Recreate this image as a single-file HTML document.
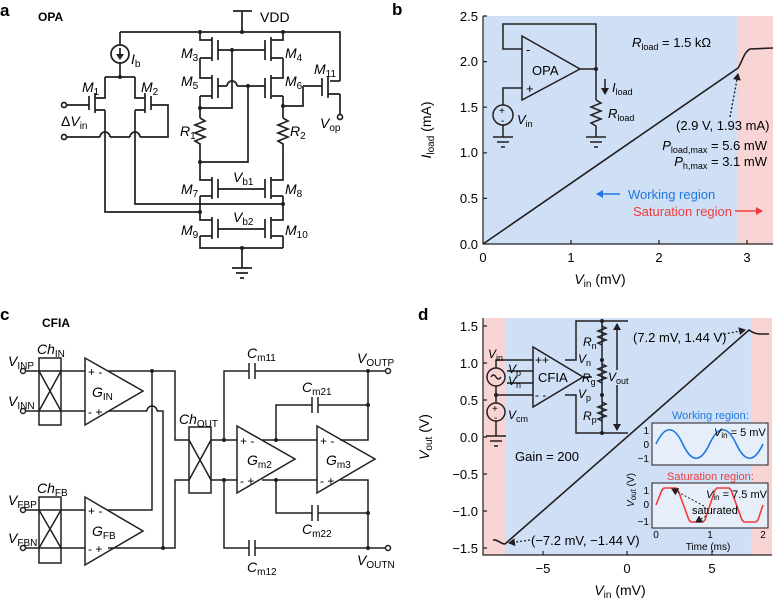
<!DOCTYPE html>
<html><head><meta charset="utf-8"><style>
html,body{margin:0;padding:0;background:#fff}
svg{display:block;font-family:"Liberation Sans",Arial,sans-serif}
</style></head><body>
<svg width="774" height="601" viewBox="0 0 774 601" xmlns="http://www.w3.org/2000/svg">
<defs>
<marker id="ah" markerWidth="8" markerHeight="8" refX="6" refY="4" orient="auto" markerUnits="userSpaceOnUse"><path d="M0,0 L7,4 L0,8 z" fill="#231f20"/></marker>
<marker id="ahb" markerWidth="8" markerHeight="8" refX="6" refY="4" orient="auto" markerUnits="userSpaceOnUse"><path d="M0,0 L7,4 L0,8 z" fill="#1f78e0"/></marker>
<marker id="ahr" markerWidth="8" markerHeight="8" refX="6" refY="4" orient="auto" markerUnits="userSpaceOnUse"><path d="M0,0 L7,4 L0,8 z" fill="#f03c3c"/></marker>
</defs>

<!-- ============ PANEL A ============ -->
<text x="0" y="16" font-size="17" font-weight="bold">a</text>
<text x="38" y="21" font-size="12" font-weight="bold">OPA</text>
<g stroke="#231f20" stroke-width="1.7" fill="none">
<path d="M242,11 V32 M233,11 H252"/>
<path d="M120,32 H340 V81"/>
<path d="M340,81 H330"/>
<path d="M328,76 V98 M322,78 V96 M340,94 H328 M340,94 V114"/>
<circle cx="340" cy="117" r="2.5" fill="#fff"/>
<path d="M303,86 H322 M303,86 V106 H283"/>
<path d="M120,32 V45 M120,63 V77"/>
<circle cx="120" cy="54" r="9"/>
<path d="M120,48 V55"/>
<path d="M105,77 H135"/>
<path d="M105,77 V98 H95 M95,93 V113 M89,96 V110 M67,105 H89 M105,110 H95 M105,110 V212 H200"/>
<path d="M135,77 V98 H145 M145,93 V113 M151,96 V110 M151,105 H168 V137 H140 M135,110 H145 M135,110 V204 H283"/>
<path d="M67,137 H100 M110,137 H130"/>
<path d="M100,137 A5,5 0 0 1 110,137 M130,137 A5,5 0 0 1 140,137"/>
<circle cx="64" cy="105" r="2.5" fill="#fff"/>
<circle cx="64" cy="137" r="2.5" fill="#fff"/>
<path d="M200,32 V40 H212 M212,37 V61 M200,58 H212 M200,58 V78 H212 M212,75 V99 M200,96 H212 M200,96 V118"/>
<path d="M200,118 l5,3 l-10,4 l10,4 l-10,4 l10,4 l-10,4 l5,3 V180 H212 M212,177 V199 M200,196 H212 M200,196 V220 H212 M212,217 V239 M200,236 H212 M200,236 V248 H283"/>
<path d="M218,40 V60 M218,78 V98 M218,179 V198 M218,219 V238"/>
<path d="M283,32 V40 H271 M271,37 V61 M283,58 H271 M283,58 V78 H271 M271,75 V99 M283,96 H271 M283,96 V118"/>
<path d="M283,118 l5,3 l-10,4 l10,4 l-10,4 l10,4 l-10,4 l5,3 V180 H271 M271,177 V199 M283,196 H271 M283,196 V220 H271 M271,217 V239 M283,236 H271 M283,236 V248"/>
<path d="M265,40 V60 M265,78 V98 M265,179 V198 M265,219 V238"/>
<path d="M218,50 H265 M232,50 V108 H200 M218,86 H227 M237,86 H265 M227,86 A5,5 0 0 1 237,86 M248,86 V162 H200"/>
<path d="M218,189 H265 M218,229 H265"/>
<path d="M242,248 V268 M232,268 H252 M236,273 H248 M240,278 H244"/>
</g>
<path d="M116,54 L124,54 L120,60 Z" fill="#231f20"/>
<g fill="#231f20">
<circle cx="242" cy="32" r="2"/><circle cx="200" cy="32" r="2"/><circle cx="283" cy="32" r="2"/>
<circle cx="120" cy="77" r="2"/><circle cx="232" cy="50" r="2"/><circle cx="248" cy="86" r="2"/>
<circle cx="200" cy="108" r="2"/><circle cx="283" cy="106" r="2"/><circle cx="200" cy="162" r="2"/>
<circle cx="200" cy="212" r="2"/><circle cx="283" cy="204" r="2"/><circle cx="242" cy="248" r="2"/>
</g>
<g font-size="14">
<text x="260" y="22">VDD</text>
<text x="131" y="64" font-style="italic">I<tspan font-size="10" font-style="normal" dy="3">b</tspan></text>
<text x="82" y="92" font-style="italic">M<tspan font-size="10" font-style="normal" dy="3">1</tspan></text>
<text x="141" y="92" font-style="italic">M<tspan font-size="10" font-style="normal" dy="3">2</tspan></text>
<text x="61" y="126">Δ<tspan font-style="italic">V</tspan><tspan font-size="10" dy="3">in</tspan></text>
<text x="181" y="58" font-style="italic">M<tspan font-size="10" font-style="normal" dy="3">3</tspan></text>
<text x="285" y="58" font-style="italic">M<tspan font-size="10" font-style="normal" dy="3">4</tspan></text>
<text x="181" y="86" font-style="italic">M<tspan font-size="10" font-style="normal" dy="3">5</tspan></text>
<text x="285" y="86" font-style="italic">M<tspan font-size="10" font-style="normal" dy="3">6</tspan></text>
<text x="314" y="74" font-style="italic">M<tspan font-size="10" font-style="normal" dy="3">11</tspan></text>
<text x="320" y="128" font-style="italic">V<tspan font-size="10" font-style="normal" dy="3">op</tspan></text>
<text x="180" y="136" font-style="italic">R<tspan font-size="10" font-style="normal" dy="3">1</tspan></text>
<text x="290" y="136" font-style="italic">R<tspan font-size="10" font-style="normal" dy="3">2</tspan></text>
<text x="233" y="182" font-style="italic">V<tspan font-size="10" font-style="normal" dy="3">b1</tspan></text>
<text x="233" y="222" font-style="italic">V<tspan font-size="10" font-style="normal" dy="3">b2</tspan></text>
<text x="181" y="194" font-style="italic">M<tspan font-size="10" font-style="normal" dy="3">7</tspan></text>
<text x="285" y="194" font-style="italic">M<tspan font-size="10" font-style="normal" dy="3">8</tspan></text>
<text x="181" y="235" font-style="italic">M<tspan font-size="10" font-style="normal" dy="3">9</tspan></text>
<text x="285" y="235" font-style="italic">M<tspan font-size="10" font-style="normal" dy="3">10</tspan></text>
</g>

<!-- ============ PANEL B ============ -->
<text x="392" y="15" font-size="17" font-weight="bold">b</text>
<rect x="483" y="16" width="255" height="228" fill="#cfdff5"/>
<rect x="738" y="16" width="35" height="228" fill="#f9d4d4"/>
<path d="M483,16 V244 H773" stroke="#231f20" stroke-width="1.2" fill="none"/>
<g stroke="#231f20" stroke-width="1.2">
<path d="M483,16 h4 M483,61.6 h4 M483,107.2 h4 M483,152.8 h4 M483,198.4 h4"/>
<path d="M571,244 v-4 M659,244 v-4 M747,244 v-4"/>
</g>
<g font-size="13" text-anchor="end">
<text x="478" y="21">2.5</text><text x="478" y="66">2.0</text><text x="478" y="112">1.5</text>
<text x="478" y="157">1.0</text><text x="478" y="203">0.5</text><text x="478" y="249">0.0</text>
</g>
<g font-size="13" text-anchor="middle">
<text x="483" y="262">0</text><text x="571" y="262">1</text><text x="659" y="262">2</text><text x="747" y="262">3</text>
</g>
<text x="600" y="284" font-size="14" text-anchor="middle"><tspan font-style="italic">V</tspan><tspan font-size="10" dy="3">in</tspan><tspan dy="-3"> (mV)</tspan></text>
<text transform="translate(431,130) rotate(-90)" font-size="14" text-anchor="middle"><tspan font-style="italic">I</tspan><tspan font-size="10" dy="3">load</tspan><tspan dy="-3"> (mA)</tspan></text>
<path d="M483,244 L738,68 C742,62 744,52 750,49 L773,48" stroke="#231f20" stroke-width="1.6" fill="none"/>
<g stroke="#231f20" stroke-width="1.5" fill="none">
<path d="M522,36 V100 L580,69 Z"/>
<path d="M580,69 H596 M522,49 H503 V24 H596 V69 V100"/>
<path d="M596,100 l5,3 l-10,4 l10,4 l-10,4 l10,4 l-10,4 l5,3 V137 M586,137 H606 M590,142 H602 M594,147 H598"/>
<path d="M522,88 H503 V105 M503,125 V137 M493,137 H513 M497,142 H509 M501,147 H505"/>
<circle cx="503" cy="115" r="10"/>
<path d="M605,79 V94" marker-end="url(#ah)"/>
</g>
<circle cx="596" cy="69" r="2" fill="#231f20"/>
<g font-size="13">
<text x="526" y="54">-</text><text x="526" y="93">+</text>
<text x="532" y="75">OPA</text>
<text x="499" y="114" font-size="10">+</text><text x="501" y="124" font-size="10">-</text>
<text x="517" y="124" font-style="italic">V<tspan font-size="9" font-style="normal" dy="3">in</tspan></text>
<text x="612" y="92" font-style="italic">I<tspan font-size="9" font-style="normal" dy="3">load</tspan></text>
<text x="608" y="118" font-style="italic">R<tspan font-size="9" font-style="normal" dy="3">load</tspan></text>
<text x="632" y="47"><tspan font-style="italic">R</tspan><tspan font-size="9" dy="3">load</tspan><tspan dy="-3"> = 1.5 kΩ</tspan></text>
<text x="676" y="130">(2.9 V, 1.93 mA)</text>
<text x="767" y="150" text-anchor="end"><tspan font-style="italic">P</tspan><tspan font-size="9" dy="3">load,max</tspan><tspan dy="-3"> = 5.6 mW</tspan></text>
<text x="767" y="166" text-anchor="end"><tspan font-style="italic">P</tspan><tspan font-size="9" dy="3">h,max</tspan><tspan dy="-3"> = 3.1 mW</tspan></text>
<text x="628" y="199" fill="#1f78e0">Working region</text>
<text x="633" y="216" fill="#f03c3c">Saturation region</text>
</g>
<path d="M730,117 L738,74" stroke="#231f20" stroke-width="1.4" stroke-dasharray="2,2" fill="none" marker-end="url(#ah)"/>
<path d="M620,194 H597" stroke="#1f78e0" stroke-width="1.5" marker-end="url(#ahb)"/>
<path d="M735,211 H762" stroke="#f03c3c" stroke-width="1.5" marker-end="url(#ahr)"/>

<!-- ============ PANEL C ============ -->
<text x="0" y="320" font-size="17" font-weight="bold">c</text>
<text x="42" y="327" font-size="12" font-weight="bold">CFIA</text>
<g stroke="#231f20" stroke-width="1.5" fill="none">
<rect x="39" y="358" width="22" height="67"/><path d="M39,371 L61,411 M39,411 L61,371"/>
<rect x="39" y="497" width="22" height="66"/><path d="M39,510 L61,548 M39,548 L61,510"/>
<rect x="189" y="427" width="22" height="66"/><path d="M189,440 L211,480 M189,480 L211,440"/>
<path d="M25,371 H85 M25,411 H85 M25,510 H85 M25,548 H85"/>
<path d="M85,358 V425 L143,391 Z M85,497 V565 L143,531 Z"/>
<path d="M237,426 V493 L295,459 Z M317,426 V493 L375,459 Z"/>
<path d="M108,371 H175 V440 H189 M152,371 V510 H108"/>
<path d="M108,411 H147 M157,411 H163 V548 M147,411 A5,5 0 0 1 157,411 M108,548 H175 V480 H189"/>
<path d="M211,440 H237 M211,480 H237 M224,440 V371 H249 M255,371 H368 M224,480 V548 H249 M255,548 H368"/>
<path d="M249,363 V379 M255,363 V379 M249,540 V556 M255,540 V556"/>
<path d="M262,440 H317 M262,480 H317 M276,440 V405 H312 M318,405 H368 M276,480 V513 H312 M318,513 H368"/>
<path d="M312,397 V413 M318,397 V413 M312,505 V521 M318,505 V521"/>
<path d="M340,440 H368 V371 H385 M340,480 H368 V548 H385"/>
</g>
<g fill="#fff" stroke="#231f20" stroke-width="1.5">
<circle cx="23" cy="371" r="2.5"/><circle cx="23" cy="411" r="2.5"/><circle cx="23" cy="510" r="2.5"/><circle cx="23" cy="548" r="2.5"/>
<circle cx="388" cy="371" r="2.5"/><circle cx="388" cy="548" r="2.5"/>
</g>
<g fill="#231f20">
<circle cx="152" cy="371" r="2"/><circle cx="163" cy="548" r="2"/><circle cx="224" cy="440" r="2"/><circle cx="224" cy="480" r="2"/>
<circle cx="276" cy="440" r="2"/><circle cx="276" cy="480" r="2"/><circle cx="368" cy="371" r="2"/><circle cx="368" cy="405" r="2"/>
<circle cx="368" cy="513" r="2"/><circle cx="368" cy="548" r="2"/>
</g>
<g font-size="14">
<text x="8" y="366" font-style="italic">V<tspan font-size="10" font-style="normal" dy="3">INP</tspan></text>
<text x="8" y="406" font-style="italic">V<tspan font-size="10" font-style="normal" dy="3">INN</tspan></text>
<text x="8" y="505" font-style="italic">V<tspan font-size="10" font-style="normal" dy="3">FBP</tspan></text>
<text x="8" y="543" font-style="italic">V<tspan font-size="10" font-style="normal" dy="3">FBN</tspan></text>
<text x="37" y="354" font-style="italic">Ch<tspan font-size="10" font-style="normal" dy="3">IN</tspan></text>
<text x="37" y="493" font-style="italic">Ch<tspan font-size="10" font-style="normal" dy="3">FB</tspan></text>
<text x="179" y="424" font-style="italic">Ch<tspan font-size="10" font-style="normal" dy="3">OUT</tspan></text>
<text x="92" y="397" font-style="italic">G<tspan font-size="10" font-style="normal" dy="3">IN</tspan></text>
<text x="92" y="536" font-style="italic">G<tspan font-size="10" font-style="normal" dy="3">FB</tspan></text>
<text x="247" y="465" font-style="italic">G<tspan font-size="10" font-style="normal" dy="3">m2</tspan></text>
<text x="326" y="465" font-style="italic">G<tspan font-size="10" font-style="normal" dy="3">m3</tspan></text>
<text x="247" y="358" font-style="italic">C<tspan font-size="10" font-style="normal" dy="3">m11</tspan></text>
<text x="302" y="392" font-style="italic">C<tspan font-size="10" font-style="normal" dy="3">m21</tspan></text>
<text x="302" y="534" font-style="italic">C<tspan font-size="10" font-style="normal" dy="3">m22</tspan></text>
<text x="247" y="572" font-style="italic">C<tspan font-size="10" font-style="normal" dy="3">m12</tspan></text>
<text x="357" y="363" font-style="italic">V<tspan font-size="10" font-style="normal" dy="3">OUTP</tspan></text>
<text x="357" y="565" font-style="italic">V<tspan font-size="10" font-style="normal" dy="3">OUTN</tspan></text>
</g>
<g font-size="12">
<text x="88" y="376">+ -</text><text x="88" y="416">- +</text>
<text x="88" y="515">+ -</text><text x="88" y="553">- +</text>
<text x="240" y="445">+ -</text><text x="240" y="485">- +</text>
<text x="320" y="445">+ -</text><text x="320" y="485">- +</text>
</g>

<!-- ============ PANEL D ============ -->
<text x="418" y="320" font-size="17" font-weight="bold">d</text>
<rect x="483" y="318" width="22" height="237" fill="#f9d4d4"/>
<rect x="505" y="318" width="246" height="237" fill="#cfdff5"/>
<rect x="751" y="318" width="21" height="237" fill="#f9d4d4"/>
<path d="M483,318 V555 H772" stroke="#231f20" stroke-width="1.2" fill="none"/>
<g stroke="#231f20" stroke-width="1.2">
<path d="M483,326 h4 M483,363 h4 M483,400 h4 M483,437 h4 M483,474 h4 M483,511 h4 M483,548 h4"/>
<path d="M543,555 v-4 M627,555 v-4 M712,555 v-4"/>
</g>
<g font-size="13" text-anchor="end">
<text x="478" y="331">1.5</text><text x="478" y="368">1.0</text><text x="478" y="405">0.5</text>
<text x="478" y="442">0.0</text><text x="478" y="479">−0.5</text><text x="478" y="516">−1.0</text><text x="478" y="553">−1.5</text>
</g>
<g font-size="13" text-anchor="middle">
<text x="543" y="573">−5</text><text x="627" y="573">0</text><text x="712" y="573">5</text>
</g>
<text x="620" y="595" font-size="14" text-anchor="middle"><tspan font-style="italic">V</tspan><tspan font-size="10" dy="3">in</tspan><tspan dy="-3"> (mV)</tspan></text>
<text transform="translate(429,437) rotate(-90)" font-size="14" text-anchor="middle"><tspan font-style="italic">V</tspan><tspan font-size="10" dy="3">out</tspan><tspan dy="-3"> (V)</tspan></text>
<path d="M493,540 C498,539 500,544 505,544 L749,330 C753,333 756,334 762,334 L769,334" stroke="#231f20" stroke-width="1.6" fill="none"/>
<path d="M720,335 L745,330" stroke="#231f20" stroke-width="1.3" stroke-dasharray="2,2" fill="none" marker-end="url(#ah)"/>
<path d="M530,540 L509,543" stroke="#231f20" stroke-width="1.3" stroke-dasharray="2,2" fill="none" marker-end="url(#ah)"/>
<g font-size="13">
<text x="633" y="342">(7.2 mV, 1.44 V)</text>
<text x="531" y="545">(−7.2 mV, −1.44 V)</text>
<text x="515" y="461">Gain = 200</text>
</g>
<g stroke="#231f20" stroke-width="1.5" fill="none">
<path d="M533,347 V407 L583,377 Z"/>
<circle cx="496" cy="377" r="9"/><circle cx="496" cy="412" r="9"/>
<path d="M491,377 q2.5,-4 5,0 t5,0"/>
<path d="M496,368 V360 H533 M507,371 H533 M507,383 H533 M496,386 V403 M496,395 H533 M496,421 V436 M486,436 H506 M490,441 H502 M494,446 H498"/>
<path d="M565,360 H576 V321 H628 M565,395 H576 V433 H628 M583,377 H592 M602,321 V360 V395 V433"/>
<path d="M602,326 l4,2 l-8,3 l8,3 l-8,3 l8,3 l-8,3 l4,2 M602,364 l4,2 l-8,3 l8,3 l-8,3 l8,3 l-8,3 l4,2 M602,402 l4,2 l-8,3 l8,3 l-8,3 l8,3 l-8,3 l4,2"/>
<path d="M617,370 V324" marker-end="url(#ah)"/><path d="M617,385 V430" marker-end="url(#ah)"/>
</g>
<g fill="#231f20"><circle cx="496" cy="395" r="2"/><circle cx="602" cy="321" r="2"/><circle cx="602" cy="360" r="2"/><circle cx="602" cy="395" r="2"/><circle cx="602" cy="433" r="2"/></g>
<g font-size="12">
<text x="492" y="412" font-size="10">+</text><text x="494" y="421" font-size="10">-</text>
<text x="488" y="358" font-style="italic">V<tspan font-size="9" font-style="normal" dy="3">in</tspan></text>
<text x="508" y="373" font-style="italic">V<tspan font-size="9" font-style="normal" dy="3">p</tspan></text>
<text x="508" y="385" font-style="italic">V<tspan font-size="9" font-style="normal" dy="3">n</tspan></text>
<text x="508" y="419" font-style="italic">V<tspan font-size="9" font-style="normal" dy="3">cm</tspan></text>
<text x="535" y="364">++</text><text x="535" y="399">- -</text>
<text x="538" y="382" font-size="13">CFIA</text>
<text x="583" y="346" font-style="italic">R<tspan font-size="9" font-style="normal" dy="3">n</tspan></text>
<text x="578" y="363" font-style="italic">V<tspan font-size="9" font-style="normal" dy="3">n</tspan></text>
<text x="582" y="382" font-style="italic">R<tspan font-size="9" font-style="normal" dy="3">g</tspan></text>
<text x="578" y="398" font-style="italic">V<tspan font-size="9" font-style="normal" dy="3">p</tspan></text>
<text x="583" y="420" font-style="italic">R<tspan font-size="9" font-style="normal" dy="3">p</tspan></text>
<text x="608" y="381" font-style="italic">V<tspan font-size="9" font-style="normal" dy="3">out</tspan></text>
</g>
<text x="672" y="419" font-size="11" fill="#1f78e0">Working region:</text>
<rect x="652" y="423" width="116" height="42" fill="#e6eef9" stroke="#231f20" stroke-width="1"/>
<text x="667" y="480" font-size="11" fill="#f03c3c">Saturation region:</text>
<rect x="652" y="483" width="116" height="45" fill="#e6eef9" stroke="#231f20" stroke-width="1"/>
<path d="M656,444 C665,425 674,425 682.75,444 C691.7,463 700.6,463 709.5,444 C718.4,425 727.3,425 736.25,444 C745.2,463 754.1,463 763,444" stroke="#1f78e0" stroke-width="1.6" fill="none"/>
<path d="M656,505 L662,490 L664,488 H676 L678,490 L689,520 L691,522 H703 L705,520 L715,490 L717,488 H729 L731,490 L742,520 L744,522 H756 L758,520 L763,505" stroke="#f03c3c" stroke-width="1.6" fill="none"/>
<g font-size="10" text-anchor="end">
<text x="649" y="434">1</text><text x="649" y="448">0</text><text x="649" y="462">−1</text>
<text x="649" y="494">1</text><text x="649" y="508">0</text><text x="649" y="525">−1</text>
</g>
<g font-size="10" text-anchor="middle"><text x="656" y="538">0</text><text x="710" y="538">1</text><text x="763" y="538">2</text></g>
<text x="708" y="550" font-size="10" text-anchor="middle">Time (ms)</text>
<text transform="translate(634,490) rotate(-90)" font-size="10" text-anchor="middle"><tspan font-style="italic">V</tspan><tspan font-size="8" dy="2">out</tspan><tspan dy="-2"> (V)</tspan></text>
<text x="714" y="436" font-size="11"><tspan font-style="italic">V</tspan><tspan font-size="8" dy="2">in</tspan><tspan dy="-2"> = 5 mV</tspan></text>
<text x="706" y="498" font-size="11"><tspan font-style="italic">V</tspan><tspan font-size="8" dy="2">in</tspan><tspan dy="-2"> = 7.5 mV</tspan></text>
<text x="692" y="514" font-size="11">saturated</text>
<path d="M704,506 L672,489" stroke="#231f20" stroke-width="1" stroke-dasharray="2,2" marker-end="url(#ah)"/>
<path d="M706,516 L696,522" stroke="#231f20" stroke-width="1" stroke-dasharray="2,2" marker-end="url(#ah)"/>
</svg>
</body></html>
